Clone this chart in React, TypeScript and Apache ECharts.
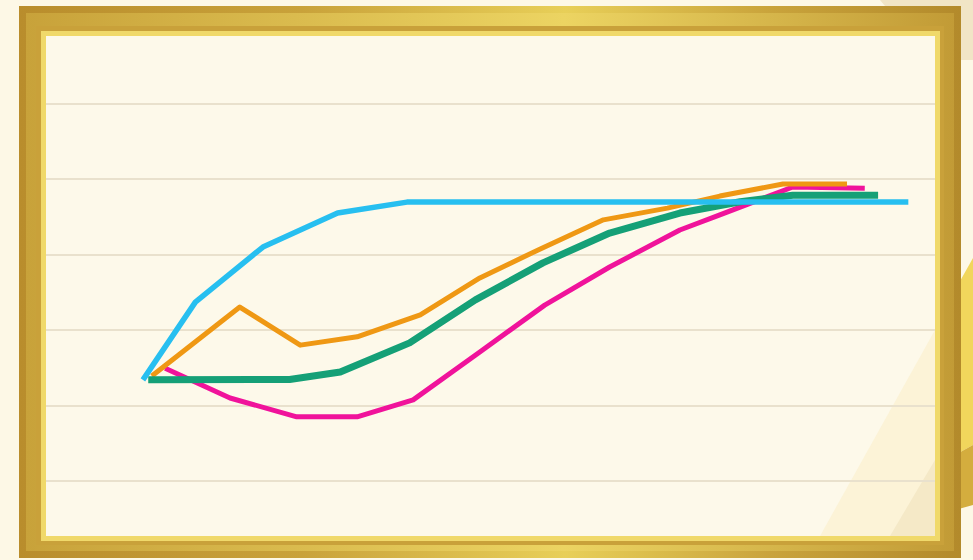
import React, { useEffect, useRef } from "react";
import * as echarts from "echarts";

// Y grid levels (axis scale 0..100, every 20)
const yTicks = [0, 20, 40, 60, 80, 100];

// Series data as [x, y] pairs (x on a 0..100 scale)
const blueData: [number, number][] = [
  [10.9, 26.8], [16.8, 47.4], [24.4, 62.0], [32.8, 71.0], [40.6, 73.9], [97.0, 73.9],
];
const orangeData: [number, number][] = [
  [11.9, 27.8], [21.8, 46.1], [28.6, 36.0], [35.0, 38.2], [42.1, 44.0], [48.8, 53.8],
  [55.6, 61.5], [62.7, 69.2], [69.9, 72.3], [75.8, 75.5], [82.9, 78.7], [90.1, 78.7],
];
const greenData: [number, number][] = [
  [11.5, 26.8], [27.4, 26.9], [33.1, 28.9], [40.9, 36.6], [48.3, 48.0], [55.9, 57.8],
  [63.4, 65.7], [71.3, 71.0], [78.1, 74.0], [84.0, 75.7], [93.6, 75.7],
];
const pinkData: [number, number][] = [
  [13.4, 29.9], [20.7, 22.0], [28.2, 17.0], [35.0, 17.0], [41.3, 21.5], [48.8, 34.2],
  [56.1, 46.6], [63.4, 56.7], [71.3, 66.5], [75.8, 70.5], [84.0, 77.9], [92.1, 77.6],
];

const seriesDefs = [
  { name: "pink", data: pinkData, color: "#f0139b", width: 5 },
  { name: "orange", data: orangeData, color: "#ef9814", width: 5 },
  { name: "green", data: greenData, color: "#15a077", width: 7 },
  { name: "blue", data: blueData, color: "#27bff0", width: 5.5 },
];

export default function App() {
  const ref = useRef<HTMLDivElement>(null);
  useEffect(() => {
    if (!ref.current) return;
    const chart = echarts.init(ref.current, undefined, { renderer: "svg" });
    const goldH = new echarts.graphic.LinearGradient(0, 0, 1, 0, [
      { offset: 0, color: "#b98d2c" },
      { offset: 0.3, color: "#c9a23a" },
      { offset: 0.58, color: "#e8cf58" },
      { offset: 0.8, color: "#c9a33b" },
      { offset: 1, color: "#b38a2b" },
    ]);
    const goldInner = new echarts.graphic.LinearGradient(0, 0, 1, 0, [
      { offset: 0, color: "#c8a23a" },
      { offset: 0.58, color: "#ecd462" },
      { offset: 1, color: "#c29b36" },
    ]);
    chart.setOption({
      animation: false,
      backgroundColor: "#fdf8e6",
      graphic: {
        elements: [
          // top-right outside shard
          { type: "polygon", z: -20, shape: { points: [[880, 0], [973, 0], [973, 60], [930, 60]] }, style: { fill: "#f1e5c6" } },
          // right gold shard
          { type: "polygon", z: -20, shape: { points: [[955, 290], [973, 258], [973, 445], [955, 455]] }, style: { fill: "#f1d65c" } },
          { type: "polygon", z: -20, shape: { points: [[955, 455], [973, 445], [973, 505], [955, 510]] }, style: { fill: "#d4ad3e" } },
          // frame
          { type: "rect", z: -15, shape: { x: 19, y: 6, width: 942, height: 552 }, style: { fill: goldH } },
          { type: "rect", z: -14, shape: { x: 26, y: 13, width: 928, height: 538 }, style: { fill: goldInner } },
          { type: "rect", z: -13, shape: { x: 36, y: 26, width: 908, height: 519 }, style: { fill: "#c9a13a" } },
          { type: "rect", z: -12, shape: { x: 41, y: 31, width: 899, height: 510 }, style: { fill: "#f0d96a" } },
          { type: "rect", z: -11, shape: { x: 46, y: 36, width: 889, height: 500 }, style: { fill: "#fdf9ea" } },
          // subtle light wedges inside
          { type: "polygon", z: -10, shape: { points: [[820, 536], [935, 330], [935, 536]] }, style: { fill: "#fbf1d2", opacity: 0.8 } },
          { type: "polygon", z: -10, shape: { points: [[890, 536], [935, 460], [935, 536]] }, style: { fill: "#f3e6c3", opacity: 0.8 } },
        ],
      },
      grid: { left: 46, top: 103.6, width: 889, height: 377.4, containLabel: false },
      xAxis: {
        type: "value",
        min: 0,
        max: 100,
        axisLine: { show: false },
        axisTick: { show: false },
        axisLabel: { show: false },
        splitLine: { show: false },
      },
      yAxis: {
        type: "value",
        min: yTicks[0],
        max: yTicks[yTicks.length - 1],
        interval: yTicks[1] - yTicks[0],
        axisLine: { show: false },
        axisTick: { show: false },
        axisLabel: { show: false },
        splitLine: { show: true, lineStyle: { color: "#e9e1cd", width: 2 } },
      },
      series: seriesDefs.map((s, i) => ({
        type: "line",
        name: s.name,
        data: s.data,
        showSymbol: false,
        symbol: "none",
        z: 3 + i,
        lineStyle: { color: s.color, width: s.width, join: "round", cap: "butt" },
        itemStyle: { color: s.color },
      })),
    });
    return () => chart.dispose();
  }, []);
  return (
    <div
      ref={ref}
      style={{ position: "fixed", left: 0, top: 0, width: 973, height: 560 }}
    />
  );
}
